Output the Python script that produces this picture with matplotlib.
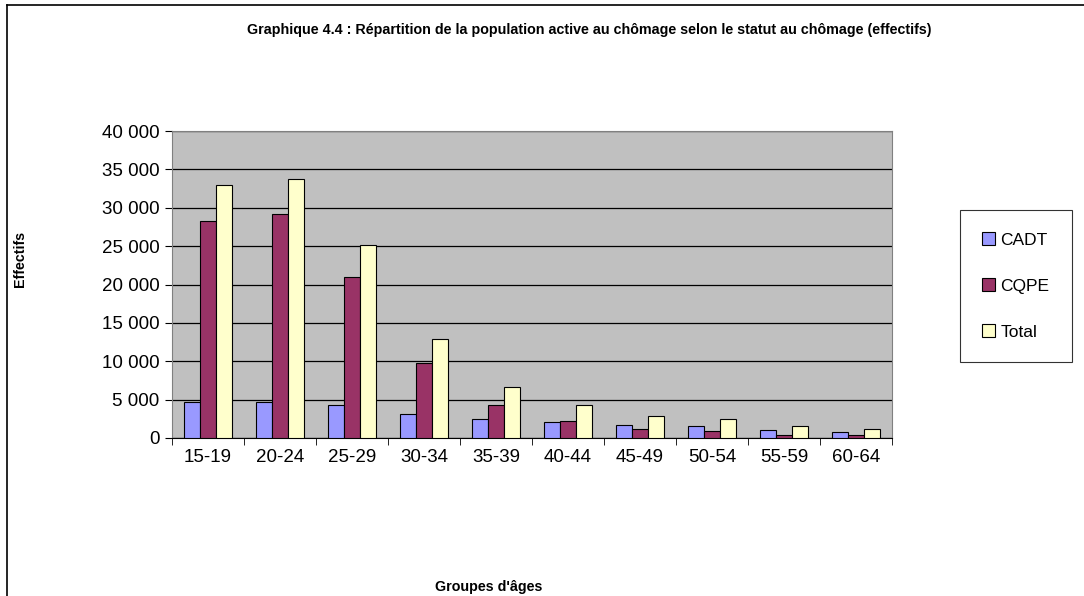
import matplotlib.pyplot as plt
import numpy as np
from matplotlib.lines import Line2D

plt.rcParams['font.family'] = ['Liberation Sans', 'DejaVu Sans']

age_groups = ["15-19", "20-24", "25-29", "30-34", "35-39",
              "40-44", "45-49", "50-54", "55-59", "60-64"]
cadt = [4690, 4640, 4250, 3170, 2430, 2080, 1650, 1560, 1040, 820]
cqpe = [28250, 29170, 21000, 9760, 4340, 2260, 1170, 870, 430, 350]
total = [32980, 33800, 25200, 12890, 6640, 4340, 2820, 2430, 1520, 1170]

series = [("CADT", cadt, "#9999FF"), ("CQPE", cqpe, "#993366"), ("Total", total, "#FFFFCC")]

fig = plt.figure(figsize=(10.84, 5.96), dpi=100)
W, H = 1084, 596
ax = fig.add_axes([172 / W, 1 - 438 / H, (892 - 172) / W, (438 - 131) / H])
ax.set_facecolor("#C0C0C0")

x = np.arange(len(age_groups))
bw = 0.222
for i, (name, vals, col) in enumerate(series):
    ax.bar(x + (i - 1) * bw, vals, bw, color=col, edgecolor="black", linewidth=0.8,
           label=name, zorder=3)

ax.set_xlim(-0.5, len(age_groups) - 0.5)
ax.set_ylim(0, 40000)
ax.set_yticks(np.arange(0, 40001, 5000))
ax.set_yticklabels([f"{v:,}".replace(",", " ") for v in range(0, 40001, 5000)], fontsize=13.5)
ax.yaxis.grid(True, color="black", linewidth=0.9, zorder=1)
ax.set_axisbelow(True)

ax.set_xticks(x)
ax.set_xticklabels(age_groups, fontsize=13.5)
ax.tick_params(axis="x", length=0, pad=8)
ax.set_xticks(np.arange(-0.5, len(age_groups), 1), minor=True)
ax.tick_params(axis="x", which="minor", length=5, direction="out")
ax.tick_params(axis="y", length=5, direction="out", pad=4)

for s in ["top", "right", "left"]:
    ax.spines[s].set_color("#808080")
ax.spines["bottom"].set_color("black")

fig.text(589 / W, 1 - 30 / H,
         "Graphique 4.4 : Répartition de la population active au chômage selon le statut au chômage (effectifs)",
         ha="center", va="center", fontsize=10.3, fontweight="bold")
fig.text(20 / W, 1 - 259 / H, "Effectifs", rotation=90, ha="center", va="center",
         fontsize=10.3, fontweight="bold")
fig.text(489 / W, 1 - 587 / H, "Groupes d'âges", ha="center", va="center",
         fontsize=10.3, fontweight="bold")

leg = fig.legend(loc="center", bbox_to_anchor=(1016 / W, 1 - 286 / H), fontsize=12.5,
                 frameon=True, fancybox=False, edgecolor="black", handlelength=0.75,
                 handleheight=0.75, handletextpad=0.3, labelspacing=1.75,
                 borderpad=1.3, borderaxespad=0)
leg.get_frame().set_linewidth(0.8)

# outer chart frame: only the left and top edges fall inside the image
fig.add_artist(Line2D([7 / W, 7 / W], [0, 1 - 5 / H], transform=fig.transFigure,
                      color="black", linewidth=1.2))
fig.add_artist(Line2D([7 / W, 1], [1 - 5 / H, 1 - 5 / H], transform=fig.transFigure,
                      color="black", linewidth=1.2))

fig.savefig("out.png", dpi=100)
